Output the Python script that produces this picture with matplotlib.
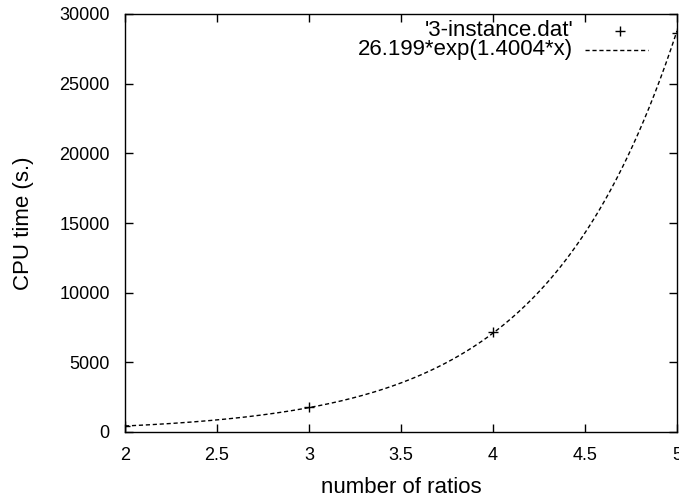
import numpy as np
import matplotlib
matplotlib.use('Agg')
import matplotlib.pyplot as plt

plt.rcParams['font.family'] = ['Liberation Sans', 'DejaVu Sans']
plt.rcParams['font.size'] = 13

# data points
n_ratios = [2, 3, 4, 5]
cpu_time = [430, 1790, 7170, 28650]

# fitted curve shown in the legend
fit_a = 26.199
fit_b = 1.4004
fit_label = '26.199*exp(1.4004*x)'
data_label = "'3-instance.dat'"

x_ticks = [2, 2.5, 3, 3.5, 4, 4.5, 5]
y_ticks = [0, 5000, 10000, 15000, 20000, 25000, 30000]

fig = plt.figure(figsize=(6.79, 4.99), dpi=100)
ax = fig.add_axes([125 / 679, 67 / 499, 552 / 679, 418 / 499])

xs = np.linspace(2, 5, 300)
ax.plot(xs, fit_a * np.exp(fit_b * xs), color='black', lw=1,
        dashes=(3, 2), clip_on=False)
ax.plot(n_ratios, cpu_time, '+', color='black', ms=7, mew=1, clip_on=True)

ax.set_xlim(2, 5)
ax.set_ylim(0, 30000)
ax.set_xticks(x_ticks)
ax.set_xticklabels(['2', '2.5', '3', '3.5', '4', '4.5', '5'])
ax.set_yticks(y_ticks)
ax.tick_params(direction='in', top=True, right=True, length=6, width=1,
               pad=11, labelsize=13)
for s in ax.spines.values():
    s.set_linewidth(1)

ax.set_xlabel('number of ratios', fontsize=16, labelpad=9)
ax.set_ylabel('CPU time (s.)', fontsize=16, labelpad=18)

# gnuplot-style key: text right-justified, sample on the right
tr = ax.transAxes
def ax_xy(px, py):
    return (px - 125) / 552, (432 - py) / 418

tx, ty = ax_xy(573, 31)
ax.text(tx, ty, data_label, transform=tr, ha='right', va='center', fontsize=16)
mx, my = ax_xy(620, 31)
ax.plot([mx], [my], '+', color='black', ms=7, mew=1, transform=tr)
tx, ty = ax_xy(573, 50)
ax.text(tx, ty, fit_label, transform=tr, ha='right', va='center', fontsize=16)
lx0, ly = ax_xy(585, 50)
lx1, _ = ax_xy(648, 50)
ax.plot([lx0, lx1], [ly, ly], color='black', lw=1, dashes=(3, 2), transform=tr)

fig.savefig('out.png', dpi=100)
